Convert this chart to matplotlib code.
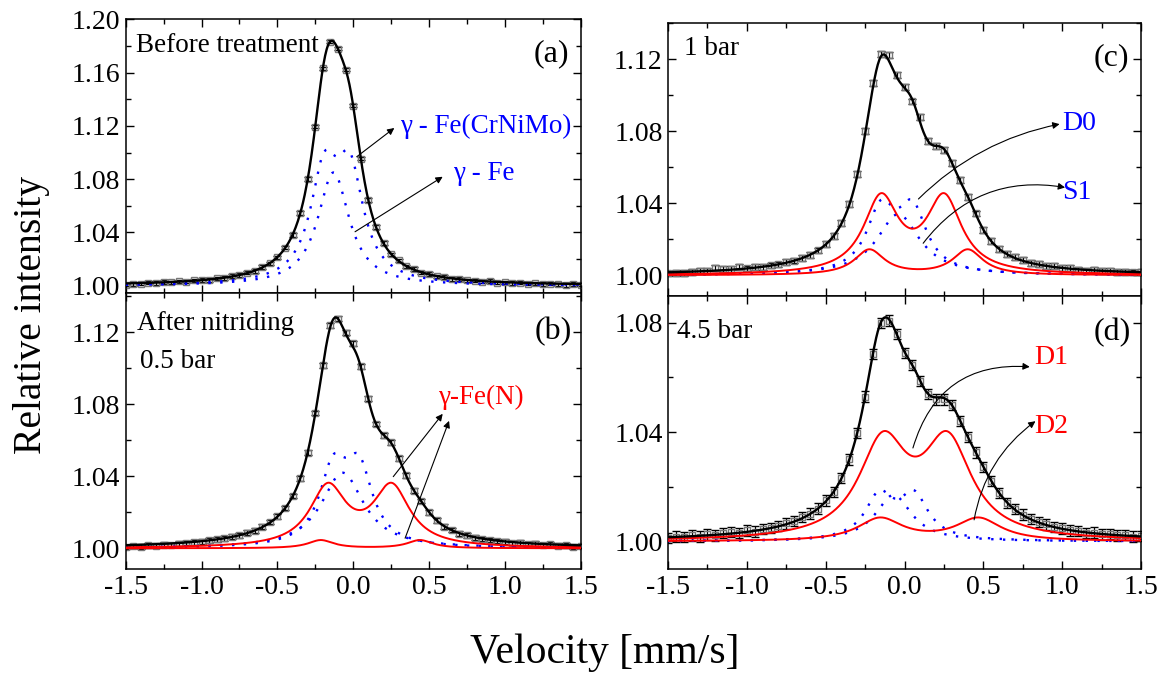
import numpy as np
import matplotlib
matplotlib.use("Agg")
from matplotlib import pyplot as plt
from matplotlib.ticker import MultipleLocator, FormatStrFormatter

plt.rcParams['font.family'] = ['Liberation Serif', 'DejaVu Serif']
plt.rcParams['axes.unicode_minus'] = False

# velocity channels (mm/s), same for all four spectra
velocity = np.round(np.arange(-1.5, 1.5001, 0.05), 2)

before = [1.0008, 1.0012, 1.0016, 1.0022, 1.0020, 1.0028, 1.0026, 1.0033, 1.0030, 1.0040,
          1.0043, 1.0044, 1.0055, 1.0058, 1.0072, 1.0080, 1.0098, 1.0110, 1.0140, 1.0168,
          1.0212, 1.0285, 1.0380, 1.0545, 1.0800, 1.1195, 1.1632, 1.1832, 1.1780, 1.1622,
          1.1352, 1.0955, 1.0645, 1.0440, 1.0320, 1.0236, 1.0190, 1.0145, 1.0125, 1.0098,
          1.0088, 1.0070, 1.0066, 1.0052, 1.0050, 1.0040, 1.0038, 1.0030, 1.0034, 1.0024,
          1.0026, 1.0020, 1.0022, 1.0016, 1.0018, 1.0012, 1.0016, 1.0010, 1.0006, 1.0012,
          1.0008]
bar_05 = [1.0008, 1.0012, 1.0010, 1.0016, 1.0014, 1.0020, 1.0018, 1.0026, 1.0030, 1.0034,
          1.0036, 1.0045, 1.0050, 1.0056, 1.0064, 1.0072, 1.0086, 1.0098, 1.0120, 1.0146,
          1.0178, 1.0224, 1.0290, 1.0388, 1.0532, 1.0752, 1.1016, 1.1238, 1.1275, 1.1198,
          1.1138, 1.1010, 1.0832, 1.0690, 1.0628, 1.0588, 1.0500, 1.0405, 1.0320, 1.0262,
          1.0200, 1.0156, 1.0120, 1.0102, 1.0082, 1.0072, 1.0060, 1.0052, 1.0046, 1.0040,
          1.0036, 1.0030, 1.0032, 1.0024, 1.0026, 1.0018, 1.0022, 1.0014, 1.0016, 1.0010,
          1.0012]
bar_1 = [1.0010, 1.0014, 1.0012, 1.0020, 1.0024, 1.0022, 1.0040, 1.0034, 1.0036, 1.0048,
         1.0038, 1.0044, 1.0048, 1.0055, 1.0060, 1.0072, 1.0082, 1.0098, 1.0112, 1.0138,
         1.0172, 1.0220, 1.0290, 1.0398, 1.0562, 1.0800, 1.1070, 1.1228, 1.1222, 1.1112,
         1.1046, 1.0966, 1.0880, 1.0748, 1.0718, 1.0696, 1.0622, 1.0528, 1.0436, 1.0344,
         1.0252, 1.0192, 1.0148, 1.0120, 1.0100, 1.0084, 1.0068, 1.0064, 1.0050, 1.0050,
         1.0040, 1.0040, 1.0032, 1.0026, 1.0028, 1.0022, 1.0024, 1.0018, 1.0020, 1.0016,
         1.0018]
bar_45 = [1.0012, 1.0018, 1.0016, 1.0022, 1.0018, 1.0026, 1.0022, 1.0030, 1.0034, 1.0030,
          1.0040, 1.0036, 1.0046, 1.0050, 1.0056, 1.0066, 1.0074, 1.0090, 1.0102, 1.0120,
          1.0150, 1.0182, 1.0232, 1.0300, 1.0396, 1.0530, 1.0685, 1.0800, 1.0808, 1.0758,
          1.0690, 1.0645, 1.0588, 1.0540, 1.0520, 1.0520, 1.0500, 1.0440, 1.0382, 1.0326,
          1.0272, 1.0222, 1.0178, 1.0140, 1.0118, 1.0098, 1.0082, 1.0070, 1.0062, 1.0052,
          1.0048, 1.0040, 1.0038, 1.0030, 1.0032, 1.0026, 1.0028, 1.0022, 1.0024, 1.0018,
          1.0020]
errors = [0.0013, 0.0013, 0.0016, 0.0019]

# fitted sub-spectra: (amplitude, half width, centre) for each Lorentz line
a_fe_crnimo = [(0.0775, 0.110, -0.192), (0.0775, 0.110, -0.022)]
a_fe = [(0.085, 0.126, -0.130)]
b_fe_crnimo = [(0.0402, 0.110, -0.132), (0.0402, 0.110, 0.038)]
b_fe = [(0.042, 0.170, -0.070)]
b_fen_1 = [(0.0329, 0.145, -0.167), (0.0329, 0.145, 0.253)]
b_fen_2 = [(0.0045, 0.102, -0.214), (0.0045, 0.102, 0.440)]
c_d0 = [(0.034, 0.110, -0.150), (0.034, 0.110, 0.050)]
c_s1 = [(0.034, 0.164, -0.040)]
c_d1 = [(0.0414, 0.135, -0.149), (0.0414, 0.135, 0.251)]
c_d2 = [(0.014, 0.116, -0.223), (0.014, 0.116, 0.401)]
d_d0 = [(0.0156, 0.110, -0.160), (0.0156, 0.110, 0.060)]
d_s1 = [(0.017, 0.140, -0.070)]
d_d1 = [(0.0344, 0.186, -0.137), (0.0344, 0.186, 0.273)]
d_d2 = [(0.0082, 0.173, -0.155), (0.0082, 0.173, 0.469)]

v_fit = np.linspace(-1.5, 1.5, 601)


def lorentz(v, lines):
    y = np.zeros_like(v)
    for amp, hw, c in lines:
        y += amp / (1.0 + ((v - c) / hw) ** 2)
    return y


def draw_panel(ax, data, err, blue, red, ylim, ytop, show_x):
    ax.errorbar(velocity, data, yerr=err, fmt='s', ms=4.5, mfc='none', mec='#777777',
                mew=1.0, ecolor='black', elinewidth=0.9, capsize=3.2, capthick=0.9, zorder=2)
    for comp in blue:
        ax.plot(v_fit, 1 + lorentz(v_fit, comp), color='blue', lw=1.7,
                ls=(0, (1, 4)), zorder=3)
    for comp in red:
        ax.plot(v_fit, 1 + lorentz(v_fit, comp), color='red', lw=1.4, zorder=3)
    total = 1 + sum(lorentz(v_fit, c) for c in blue + red)
    ax.plot(v_fit, total, color='black', lw=1.7, zorder=4)

    ax.set_xlim(-1.5, 1.5)
    ax.set_ylim(*ylim)
    ax.xaxis.set_major_locator(MultipleLocator(0.5))
    ax.xaxis.set_minor_locator(MultipleLocator(0.25))
    ax.set_yticks(np.arange(1.0, ytop + 0.001, 0.04))
    ax.yaxis.set_minor_locator(MultipleLocator(0.02))
    ax.xaxis.set_major_formatter(FormatStrFormatter('%.1f'))
    ax.yaxis.set_major_formatter(FormatStrFormatter('%.2f'))
    ax.tick_params(which='both', direction='in', top=True, right=True, labelsize=20, width=1)
    ax.tick_params(which='major', length=6, pad=4)
    ax.tick_params(which='minor', length=3.5)
    if not show_x:
        ax.tick_params(labelbottom=False)
    for s in ax.spines.values():
        s.set_linewidth(1.1)


fig = plt.figure(figsize=(11.6, 6.73), dpi=100)
ax_a = fig.add_axes([0.1084, 0.5646, 0.3922, 0.4067])
ax_b = fig.add_axes([0.1084, 0.1545, 0.3922, 0.4101])
ax_c = fig.add_axes([0.5759, 0.5602, 0.4078, 0.4062])
ax_d = fig.add_axes([0.5759, 0.1545, 0.4078, 0.4056])

draw_panel(ax_a, before, errors[0], [a_fe_crnimo, a_fe], [], (0.9945, 1.20), 1.20, False)
draw_panel(ax_b, bar_05, errors[1], [b_fe_crnimo, b_fe], [b_fen_1, b_fen_2],
           (0.9885, 1.1418), 1.12, True)
draw_panel(ax_c, bar_1, errors[2], [c_d0, c_s1], [c_d1, c_d2], (0.9885, 1.1404), 1.12, False)
draw_panel(ax_d, bar_45, errors[3], [d_d0, d_s1], [d_d1, d_d2], (0.9899, 1.0898), 1.08, True)

arrow = dict(arrowstyle='-|>', color='black', lw=0.8, mutation_scale=10, shrinkA=0, shrinkB=0)

# (a)
ax_a.text(-1.432, 1.1807, 'Before treatment', fontsize=19.5, va='center')
ax_a.text(1.304, 1.1745, '(a)', fontsize=23, ha='center', va='center')
ax_a.text(0.309, 1.1194, 'γ - Fe(CrNiMo)', fontsize=19.5, color='blue', va='center')
ax_a.text(0.660, 1.0843, 'γ - Fe', fontsize=19.5, color='blue', va='center')
ax_a.annotate('', xy=(0.271, 1.1184), xytext=(0.023, 1.0968), arrowprops=arrow)
ax_a.annotate('', xy=(0.590, 1.0818), xytext=(0.012, 1.0405), arrowprops=arrow)

# (b)
ax_b.text(-1.428, 1.1251, 'After nitriding', fontsize=19.5, va='center')
ax_b.text(-1.406, 1.1037, '0.5 bar', fontsize=19.5, va='center')
ax_b.text(1.317, 1.1204, '(b)', fontsize=23, ha='center', va='center')
ax_b.text(0.561, 1.0836, 'γ-Fe(N)', fontsize=19.5, color='red', va='center')
ax_b.annotate('', xy=(0.590, 1.0747), xytext=(0.264, 1.0398), arrowprops=arrow)
ax_b.annotate('', xy=(0.632, 1.0708), xytext=(0.342, 1.0056), arrowprops=arrow)

# (c)
ax_c.text(-1.40, 1.1262, '1 bar', fontsize=19.5, va='center')
ax_c.text(1.31, 1.1207, '(c)', fontsize=23, ha='center', va='center')
ax_c.text(0.999, 1.0845, 'D0', fontsize=20, color='blue', va='center')
ax_c.text(0.999, 1.0460, 'S1', fontsize=20, color='blue', va='center')
ax_c.annotate('', xy=(0.983, 1.0840), xytext=(0.088, 1.0424),
              arrowprops=dict(arrow, connectionstyle='arc3,rad=-0.15'))
ax_c.annotate('', xy=(1.018, 1.0488), xytext=(0.118, 1.0178),
              arrowprops=dict(arrow, connectionstyle='arc3,rad=-0.3'))

# (d)
ax_d.text(-1.443, 1.0770, '4.5 bar', fontsize=19.5, va='center')
ax_d.text(1.316, 1.0763, '(d)', fontsize=23, ha='center', va='center')
ax_d.text(0.821, 1.0672, 'D1', fontsize=20, color='red', va='center')
ax_d.text(0.821, 1.0422, 'D2', fontsize=20, color='red', va='center')
ax_d.annotate('', xy=(0.794, 1.0639), xytext=(0.053, 1.0342),
              arrowprops=dict(arrow, connectionstyle='arc3,rad=-0.4'))
ax_d.annotate('', xy=(0.830, 1.0440), xytext=(0.441, 1.0079),
              arrowprops=dict(arrow, connectionstyle='arc3,rad=-0.2'))

fig.text(0.027, 0.532, 'Relative intensity', fontsize=28.5, rotation=90, ha='center', va='center')
fig.text(0.521, 0.030, 'Velocity [mm/s]', fontsize=30, ha='center', va='center')

fig.savefig('out.png', dpi=100)
